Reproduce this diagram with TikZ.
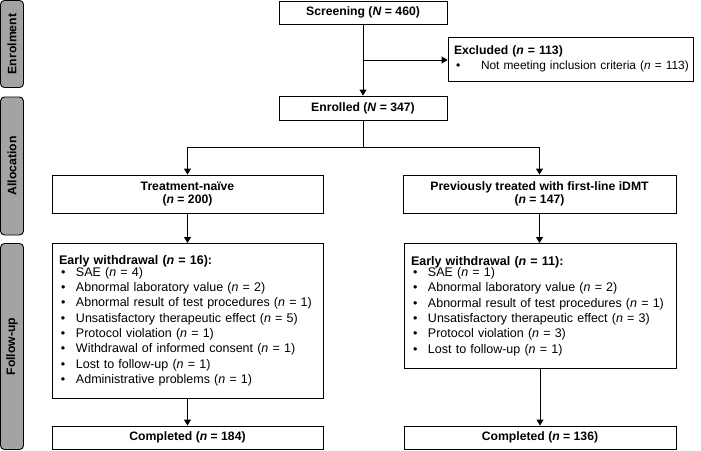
\documentclass[tikz,border=0pt]{standalone}
\usepackage{fontspec}
\setmainfont{Liberation Sans}
\usetikzlibrary{arrows.meta}
\begin{document}
\begin{tikzpicture}[x=1pt,y=-1pt,
  font=\fontsize{12.5}{15.3}\selectfont,
  box/.style={draw=black, line width=0.9pt, rectangle, inner sep=0pt, fill=white},
  side/.style={draw=black, line width=0.9pt, rounded corners=4pt, fill=gray!72, inner sep=0pt, rotate=90, font=\fontsize{12.2}{13}\selectfont\bfseries},
  conn/.style={line width=0.9pt, -{Triangle[width=7pt,length=6pt]}},
  line/.style={line width=0.9pt},
  ttl/.style={font=\fontsize{12.2}{13.5}\selectfont\bfseries}
]
\useasboundingbox (0,0) rectangle (701,450);
% side labels
\node[side, minimum width=87pt, minimum height=23pt] (senr) at (12,44) {Enrolment};
\node[side, minimum width=138pt, minimum height=23pt] (salloc) at (12,166) {Allocation};
\node[side, minimum width=206pt, minimum height=23pt] (sfol) at (12,346.5) {Follow-up};
% boxes
\node[box, ttl, minimum width=168pt, minimum height=23pt] (scr) at (363,12.5) {Screening (\textit{N} = 460)};
\node[box, ttl, minimum width=168pt, minimum height=24pt] (enr) at (363,108) {Enrolled (\textit{N} = 347)};
\node[box, minimum width=245pt, minimum height=44pt, align=left, text width=243pt, font=\fontsize{12.2}{14.5}\selectfont] (exc) at (570.5,59)
  {\hspace*{5pt}\textbf{Excluded (\textit{n} = 113)}\\
   \mbox{\hspace*{5pt}\makebox[27pt][l]{\hspace{2pt}•}\fontsize{11.9}{14.5}\selectfont Not meeting inclusion criteria (\textit{n} = 113)}};
\node[box, ttl, minimum width=271pt, minimum height=38pt, align=center] (tn) at (187.5,194) {Treatment-naïve\\(\textit{n} = 200)};
\node[box, ttl, minimum width=273pt, minimum height=38pt, align=center] (pt) at (539.5,194) {Previously treated with first-line iDMT\\(\textit{n} = 147)};
\node[box, minimum width=271pt, minimum height=155pt, align=left, text width=257pt, anchor=north] (ewl) at (187.5,243) {%
\vspace{-4pt}\textbf{Early withdrawal (\textit{n} = 16):}\\
\makebox[17pt][l]{\hspace{2pt}•}SAE (\textit{n} = 4)\\
\makebox[17pt][l]{\hspace{2pt}•}Abnormal laboratory value (\textit{n} = 2)\\
\makebox[17pt][l]{\hspace{2pt}•}Abnormal result of test procedures (\textit{n} = 1)\\
\makebox[17pt][l]{\hspace{2pt}•}Unsatisfactory therapeutic effect (\textit{n} = 5)\\
\makebox[17pt][l]{\hspace{2pt}•}Protocol violation (\textit{n} = 1)\\
\makebox[17pt][l]{\hspace{2pt}•}Withdrawal of informed consent (\textit{n} = 1)\\
\makebox[17pt][l]{\hspace{2pt}•}Lost to follow-up (\textit{n} = 1)\\
\makebox[17pt][l]{\hspace{2pt}•}Administrative problems (\textit{n} = 1)};
\node[box, minimum width=272pt, minimum height=125pt, align=left, text width=258pt, anchor=north] (ewr) at (540,243) {%
\vspace{-4pt}\textbf{Early withdrawal (\textit{n} = 11):}\\
\makebox[17pt][l]{\hspace{2pt}•}SAE (\textit{n} = 1)\\
\makebox[17pt][l]{\hspace{2pt}•}Abnormal laboratory value (\textit{n} = 2)\\
\makebox[17pt][l]{\hspace{2pt}•}Abnormal result of test procedures (\textit{n} = 1)\\
\makebox[17pt][l]{\hspace{2pt}•}Unsatisfactory therapeutic effect (\textit{n} = 3)\\
\makebox[17pt][l]{\hspace{2pt}•}Protocol violation (\textit{n} = 3)\\
\makebox[17pt][l]{\hspace{2pt}•}Lost to follow-up (\textit{n} = 1)};
\node[box, ttl, minimum width=271pt, minimum height=23pt] (cl) at (187.5,437.5) {Completed (\textit{n} = 184)};
\node[box, ttl, minimum width=272pt, minimum height=23pt] (cr) at (540,437.5) {Completed (\textit{n} = 136)};
% connectors
\coordinate (split) at (363,60);
\coordinate (branch) at (363,147);
\draw[conn] (scr.south) -- (enr.north);
\draw[conn] (split) -- (exc.west |- split);
\draw[line] (enr.south) -- (branch);
\draw[conn] (branch) -| (tn.north);
\draw[conn] (branch) -| (pt.north);
\draw[conn] (tn.south) -- (ewl.north);
\draw[conn] (pt.south) -- (pt.south |- ewr.north);
\draw[conn] (ewl.south) -- (cl.north);
\draw[conn] (ewr.south) -- (cr.north);
\end{tikzpicture}
\end{document}
